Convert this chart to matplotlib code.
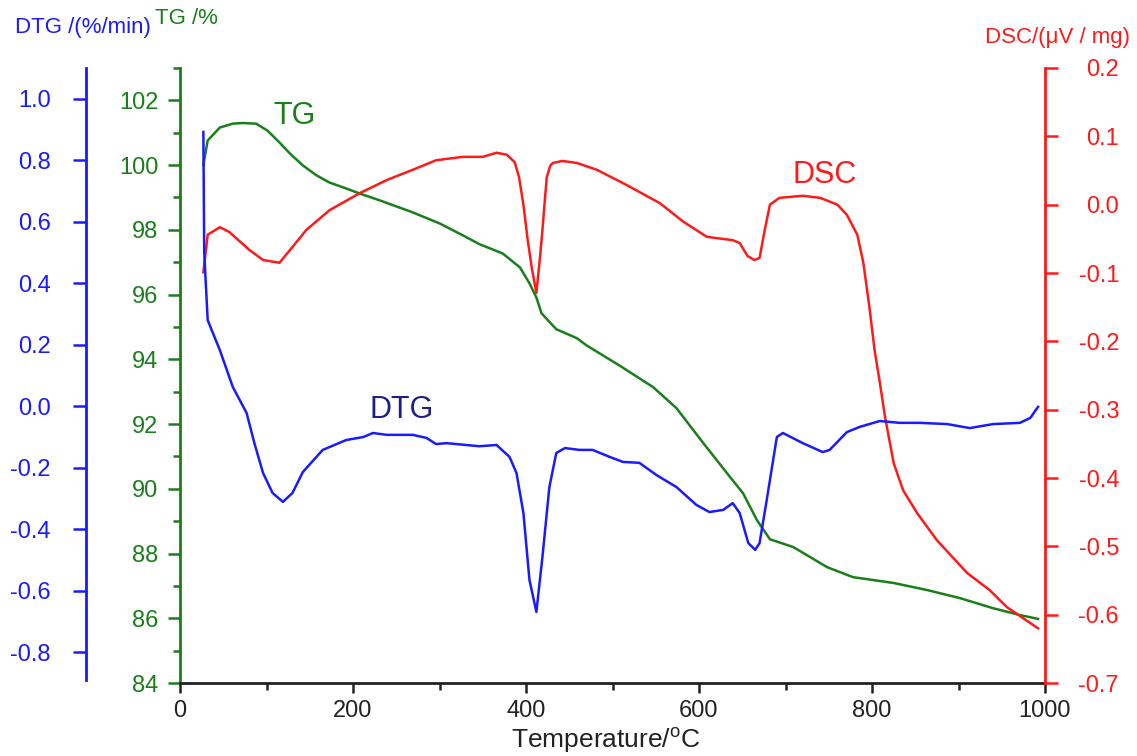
import matplotlib
matplotlib.use("Agg")
import matplotlib.pyplot as plt
from matplotlib.ticker import MultipleLocator

plt.rcParams['font.family'] = ['Liberation Sans', 'DejaVu Sans']
plt.rcParams['mathtext.fontset'] = 'custom'
plt.rcParams['mathtext.rm'] = 'Liberation Sans'

# ---------------- data ----------------
tg_T = [27, 32, 46, 61, 72, 88, 101, 115, 127, 142, 158, 173, 192, 208, 231, 269, 300, 327,
        346, 373, 393, 404, 412, 418, 435, 459, 470, 508, 547, 574, 605, 636, 651, 667,
        682, 709, 748, 778, 825, 864, 902, 940, 971, 992]
tg_val = [100.0, 100.76, 101.16, 101.28, 101.3, 101.28, 101.07, 100.7, 100.36, 99.99, 99.68,
          99.46, 99.28, 99.12, 98.91, 98.54, 98.2, 97.83, 97.56, 97.27, 96.84, 96.35, 95.91,
          95.42, 94.93, 94.65, 94.43, 93.81, 93.14, 92.49, 91.41, 90.36, 89.86, 89.03, 88.44,
          88.2, 87.58, 87.27, 87.09, 86.87, 86.62, 86.31, 86.1, 85.98]

dsc_T = [27, 32, 46, 57, 80, 96, 115, 130, 146, 173, 208, 239, 269, 296, 327, 350, 366, 378,
         387, 392, 397, 402, 407, 412, 416, 419, 422, 424, 428, 431, 442, 459, 482, 516, 555,
         582, 609, 639, 647, 656, 664, 670, 676, 682, 693, 720, 740, 760, 771, 783, 790, 797,
         803, 809, 815, 825, 836, 852, 875, 910, 936, 956, 992]
dsc_val = [-0.099, -0.044, -0.033, -0.04, -0.066, -0.081, -0.085, -0.062, -0.037, -0.008,
           0.017, 0.036, 0.051, 0.065, 0.07, 0.07, 0.076, 0.073, 0.062, 0.04, 0.0, -0.052,
           -0.095, -0.129, -0.08, -0.037, 0.01, 0.04, 0.057, 0.061, 0.064, 0.061, 0.051, 0.029,
           0.002, -0.025, -0.047, -0.052, -0.056, -0.075, -0.081, -0.078, -0.037, 0.0, 0.01,
           0.013, 0.01, 0.0, -0.015, -0.044, -0.085, -0.15, -0.213, -0.26, -0.31, -0.378,
           -0.418, -0.451, -0.491, -0.539, -0.564, -0.589, -0.62]

dtg_T = [27, 28, 32, 46, 61, 77, 86, 96, 107, 119, 130, 142, 165, 192, 212, 223, 239, 269,
         285, 296, 308, 346, 366, 381, 389, 397, 404, 412, 419, 427, 435, 445, 462, 477, 497,
         512, 531, 551, 574, 597, 612, 628, 639, 647, 657, 665, 670, 678, 690, 697, 720, 743,
         751, 771, 786, 809, 832, 855, 887, 913, 940, 971, 983, 992]
dtg_val = [0.892, 0.5, 0.28, 0.183, 0.063, -0.022, -0.12, -0.217, -0.282, -0.311, -0.282,
           -0.214, -0.142, -0.11, -0.1, -0.087, -0.093, -0.093, -0.103, -0.123, -0.12, -0.13,
           -0.126, -0.165, -0.217, -0.347, -0.565, -0.669, -0.49, -0.263, -0.152, -0.136,
           -0.142, -0.142, -0.165, -0.181, -0.184, -0.224, -0.263, -0.321, -0.344, -0.337,
           -0.315, -0.347, -0.445, -0.467, -0.445, -0.31, -0.1, -0.087, -0.12, -0.149, -0.142,
           -0.084, -0.067, -0.048, -0.054, -0.054, -0.058, -0.071, -0.058, -0.054, -0.038,
           -0.002]

x_ticks = [0, 200, 400, 600, 800, 1000]
tg_ticks = [84, 86, 88, 90, 92, 94, 96, 98, 100, 102]
dtg_ticks = [-0.8, -0.6, -0.4, -0.2, 0.0, 0.2, 0.4, 0.6, 0.8, 1.0]
dsc_ticks = [-0.7, -0.6, -0.5, -0.4, -0.3, -0.2, -0.1, 0.0, 0.1, 0.2]

# ---------------- styling ----------------
GREEN = '#1a7f1a'
BLUE = '#1a1aff'
RED = '#ff1a1a'
DARK = '#222222'
NAVY = '#1f1f8a'
W, H = 1137, 756
PT = 0.72  # points per pixel at 100 dpi

fig = plt.figure(figsize=(W / 100, H / 100), dpi=100)
ax = fig.add_axes([180 / W, (H - 683) / H, 865 / W, 615 / H])
ax_dsc = ax.twinx()
ax_dtg = ax.twinx()

LW = 1.8
SW = 2.0
TW = 1.8
TS = 17

# TG axis (main)
ax.plot(tg_T, tg_val, color=GREEN, lw=LW, zorder=3)
ax.set_xlim(0, 1000)
ax.set_ylim(84, 103)
ax.set_xticks(x_ticks)
ax.xaxis.set_minor_locator(MultipleLocator(100))
ax.set_yticks(tg_ticks)
ax.yaxis.set_minor_locator(MultipleLocator(1))
for s in ['top', 'right']:
    ax.spines[s].set_visible(False)
ax.spines['left'].set_color(GREEN)
ax.spines['left'].set_linewidth(SW)
ax.spines['bottom'].set_color(DARK)
ax.spines['bottom'].set_linewidth(SW)
ax.tick_params(axis='x', which='major', direction='out', length=10 * PT, width=TW, color=DARK,
               labelsize=TS, labelcolor=DARK, pad=5)
ax.tick_params(axis='x', which='minor', direction='out', length=7 * PT, width=TW, color=DARK)
ax.tick_params(axis='y', which='major', direction='out', length=12 * PT, width=TW, color=GREEN,
               labelsize=TS, labelcolor=GREEN, pad=7)
ax.tick_params(axis='y', which='minor', direction='out', length=7 * PT, width=TW, color=GREEN)

# DSC axis (right), labels right-aligned
ax_dsc.plot(dsc_T, dsc_val, color=RED, lw=LW, zorder=3)
ax_dsc.set_ylim(-0.7, 0.2)
ax_dsc.set_yticks(dsc_ticks)
ax_dsc.set_yticklabels([f'{v:.1f}' for v in dsc_ticks], ha='right')
for s in ['top', 'left', 'bottom']:
    ax_dsc.spines[s].set_visible(False)
ax_dsc.spines['right'].set_color(RED)
ax_dsc.spines['right'].set_linewidth(SW)
ax_dsc.tick_params(axis='y', direction='out', length=13 * PT, width=TW, color=RED,
                   labelsize=TS, labelcolor=RED, pad=61 * PT)

# DTG axis (far left)
ax_dtg.plot(dtg_T, dtg_val, color=BLUE, lw=LW, zorder=3)
ax_dtg.set_ylim(-0.9, 1.1)
ax_dtg.set_yticks(dtg_ticks)
ax_dtg.set_yticklabels([f'{v:.1f}' for v in dtg_ticks])
ax_dtg.yaxis.set_ticks_position('left')
ax_dtg.yaxis.set_label_position('left')
for s in ['top', 'right', 'bottom']:
    ax_dtg.spines[s].set_visible(False)
ax_dtg.spines['left'].set_visible(True)
ax_dtg.spines['left'].set_position(('outward', 94 * PT))
ax_dtg.spines['left'].set_color(BLUE)
ax_dtg.spines['left'].set_linewidth(SW)
ax_dtg.spines['left'].set_bounds(-0.89, 1.1)
ax_dtg.tick_params(axis='y', direction='out', length=13 * PT, width=TW, color=BLUE,
                   labelsize=TS, labelcolor=BLUE, pad=16)

# axis titles
fig.text(15 / W, 1 - 28 / H, 'DTG /(%/min)', color=BLUE, fontsize=16, ha='left', va='center')
fig.text(155 / W, 1 - 18 / H, 'TG /%', color=GREEN, fontsize=16, ha='left', va='center')
fig.text(1130 / W, 1 - 37 / H, 'DSC/(μV / mg)', color=RED, fontsize=16, ha='right', va='center')
fig.text(606 / W, 1 - 740 / H, 'Temperature/$^{\\rm o}$C', color=DARK, fontsize=19,
         ha='center', va='center')

# curve labels
ax.text(294 / W, 1 - 116 / H, 'TG', transform=fig.transFigure, color=GREEN, fontsize=22,
        ha='center', va='center')
ax.text(825 / W, 1 - 175 / H, 'DSC', transform=fig.transFigure, color=RED, fontsize=22,
        ha='center', va='center')
ax.text(402 / W, 1 - 410 / H, 'DTG', transform=fig.transFigure, color=NAVY, fontsize=22,
        ha='center', va='center')

fig.savefig('out.png', dpi=100)
